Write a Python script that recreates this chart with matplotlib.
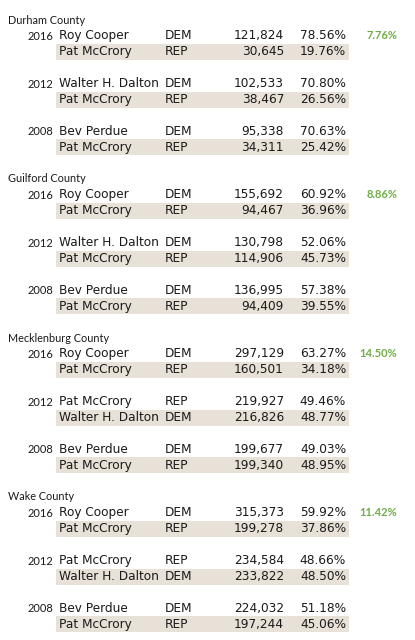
import matplotlib
matplotlib.use("Agg")
import matplotlib.pyplot as plt
from matplotlib.patches import Rectangle

counties = ["Durham County", "Guilford County", "Mecklenburg County", "Wake County"]
years = ["2016", "2012", "2008"]

# one entry per county: three races, two candidates each (winner first)
names = [
    [["Roy Cooper", "Pat McCrory"], ["Walter H. Dalton", "Pat McCrory"], ["Bev Perdue", "Pat McCrory"]],
    [["Roy Cooper", "Pat McCrory"], ["Walter H. Dalton", "Pat McCrory"], ["Bev Perdue", "Pat McCrory"]],
    [["Roy Cooper", "Pat McCrory"], ["Pat McCrory", "Walter H. Dalton"], ["Bev Perdue", "Pat McCrory"]],
    [["Roy Cooper", "Pat McCrory"], ["Pat McCrory", "Walter H. Dalton"], ["Bev Perdue", "Pat McCrory"]],
]
parties = [
    [["DEM", "REP"], ["DEM", "REP"], ["DEM", "REP"]],
    [["DEM", "REP"], ["DEM", "REP"], ["DEM", "REP"]],
    [["DEM", "REP"], ["REP", "DEM"], ["DEM", "REP"]],
    [["DEM", "REP"], ["REP", "DEM"], ["DEM", "REP"]],
]
votes = [
    [[121824, 30645], [102533, 38467], [95338, 34311]],
    [[155692, 94467], [130798, 114906], [136995, 94409]],
    [[297129, 160501], [219927, 216826], [199677, 199340]],
    [[315373, 199278], [234584, 233822], [224032, 197244]],
]
pcts = [
    [[78.56, 19.76], [70.80, 26.56], [70.63, 25.42]],
    [[60.92, 36.96], [52.06, 45.73], [57.38, 39.55]],
    [[63.27, 34.18], [49.46, 48.77], [49.03, 48.95]],
    [[59.92, 37.86], [48.66, 48.50], [51.18, 45.06]],
]
swing_2016 = [7.76, 8.86, 14.50, 11.42]

W, H = 415, 640
fig = plt.figure(figsize=(W / 100, H / 100), dpi=100)
ax = fig.add_axes([0, 0, 1, 1])
ax.set_xlim(0, W)
ax.set_ylim(H, 0)
ax.axis("off")

pitch = 15.9
y0 = 20
band = "#e8e1d7"
green = "#70ad47"
main = dict(family="DejaVu Sans", fontsize=8.7, color="#1a1a1a", va="center")
small = dict(family="Lato", color="#1a1a1a", va="center")

for c, county in enumerate(counties):
    yh = y0 + c * 10 * pitch
    ax.text(8, yh, county, fontsize=7.8, ha="left", **small)
    for r, year in enumerate(years):
        for k in range(2):
            y = yh + (1 + 3 * r + k) * pitch
            if k == 1:
                ax.add_patch(Rectangle((56, y - 8), 293, 16, color=band, lw=0, zorder=0))
            else:
                ax.text(53, y + 0.5, year, fontsize=8, ha="right", **small)
            ax.text(59, y, names[c][r][k], ha="left", **main)
            ax.text(165, y, parties[c][r][k], ha="left", **main)
            ax.text(284, y, f"{votes[c][r][k]:,}", ha="right", **main)
            ax.text(346, y, f"{pcts[c][r][k]:.2f}%", ha="right", **main)
    ax.text(397, yh + pitch, f"{swing_2016[c]:.2f}%", ha="right", fontsize=8,
            fontweight="bold", family="Lato", color=green, va="center")

fig.savefig("out.png", dpi=100)
